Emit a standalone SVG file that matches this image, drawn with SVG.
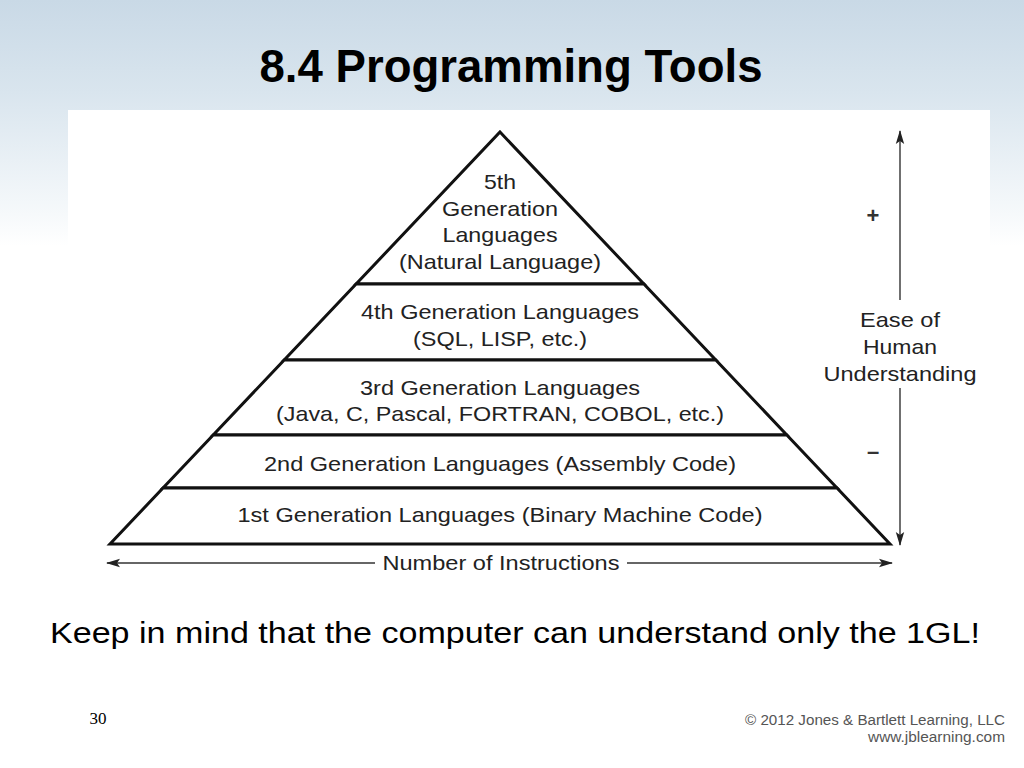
<svg xmlns="http://www.w3.org/2000/svg" width="1024" height="768" viewBox="0 0 1024 768">
<defs>
<linearGradient id="bg" x1="0" y1="0" x2="0" y2="1">
<stop offset="0" stop-color="#c9d9e6"/>
<stop offset="0.12" stop-color="#d9e5ee"/>
<stop offset="0.28" stop-color="#f6f9fb"/>
<stop offset="0.32" stop-color="#ffffff"/>
<stop offset="1" stop-color="#ffffff"/>
</linearGradient>
<marker id="arr" viewBox="0 0 14 10" refX="13" refY="5" markerWidth="14" markerHeight="10" markerUnits="userSpaceOnUse" orient="auto-start-reverse">
<path d="M0,0.8 L14,5 L0,9.2 L3,5 Z" fill="#222"/>
</marker>
<style>
.lyr{fill:#fff;stroke:#111;stroke-width:3;stroke-linejoin:miter}
.t{font-family:"Liberation Sans",Arial,Helvetica,sans-serif;font-size:21px;fill:#222;text-anchor:middle}
.pm{font-family:"Liberation Sans",Arial,Helvetica,sans-serif;font-size:22px;font-weight:bold;fill:#333;text-anchor:middle}
.ax{stroke:#333;stroke-width:1.4;fill:none}
</style>
</defs>
<rect x="0" y="0" width="1024" height="768" fill="url(#bg)"/>
<rect x="68" y="110" width="922" height="470" fill="#fff"/>
<text x="511" y="82" font-family="'Liberation Sans',Arial,sans-serif" font-weight="bold" font-size="46" text-anchor="middle" textLength="503" lengthAdjust="spacingAndGlyphs" fill="#000">8.4 Programming Tools</text>

<g id="gen5">
<polygon class="lyr" points="500,132 643.9,284 356.1,284"/>
<text class="t" x="500" y="189" textLength="32" lengthAdjust="spacingAndGlyphs">5th</text>
<text class="t" x="500" y="216" textLength="116" lengthAdjust="spacingAndGlyphs">Generation</text>
<text class="t" x="500" y="242" textLength="115" lengthAdjust="spacingAndGlyphs">Languages</text>
<text class="t" x="500" y="269" textLength="202" lengthAdjust="spacingAndGlyphs">(Natural Language)</text>
</g>
<g id="gen4">
<polygon class="lyr" points="356.1,284 643.9,284 715.8,360 284.2,360"/>
<text class="t" x="500" y="319" textLength="278" lengthAdjust="spacingAndGlyphs">4th Generation Languages</text>
<text class="t" x="500" y="346" textLength="174" lengthAdjust="spacingAndGlyphs">(SQL, LISP, etc.)</text>
</g>
<g id="gen3">
<polygon class="lyr" points="284.2,360 715.8,360 786.8,435 213.2,435"/>
<text class="t" x="500" y="395" textLength="280" lengthAdjust="spacingAndGlyphs">3rd Generation Languages</text>
<text class="t" x="500" y="421" textLength="448" lengthAdjust="spacingAndGlyphs">(Java, C, Pascal, FORTRAN, COBOL, etc.)</text>
</g>
<g id="gen2">
<polygon class="lyr" points="213.2,435 786.8,435 837,488 163,488"/>
<text class="t" x="500" y="471" textLength="472" lengthAdjust="spacingAndGlyphs">2nd Generation Languages (Assembly Code)</text>
</g>
<g id="gen1">
<polygon class="lyr" points="163,488 837,488 890,544 110,544"/>
<text class="t" x="500" y="522" textLength="525" lengthAdjust="spacingAndGlyphs">1st Generation Languages (Binary Machine Code)</text>
</g>

<g id="connectors">
<line class="ax" x1="900" y1="131" x2="900" y2="300" marker-start="url(#arr)"/>
<line class="ax" x1="900" y1="388" x2="900" y2="545" marker-end="url(#arr)"/>
<line class="ax" x1="107" y1="563" x2="375" y2="563" marker-start="url(#arr)"/>
<line class="ax" x1="627" y1="563" x2="892" y2="563" marker-end="url(#arr)"/>
</g>

<g id="ease-label">
<text class="pm" x="873" y="223">+</text>
<text class="pm" x="873" y="459">–</text>
<text class="t" x="900" y="327" textLength="80" lengthAdjust="spacingAndGlyphs">Ease of</text>
<text class="t" x="900" y="354" textLength="74" lengthAdjust="spacingAndGlyphs">Human</text>
<text class="t" x="900" y="381" textLength="153" lengthAdjust="spacingAndGlyphs">Understanding</text>
</g>
<g id="instr-label">
<text class="t" x="501" y="570" textLength="237" lengthAdjust="spacingAndGlyphs">Number of Instructions</text>
</g>

<text x="515" y="643" font-family="'Liberation Sans',Arial,sans-serif" font-size="29" text-anchor="middle" textLength="930" lengthAdjust="spacingAndGlyphs" fill="#000">Keep in mind that the computer can understand only the 1GL!</text>
<text x="98" y="724" font-family="'Liberation Serif','Times New Roman',serif" font-size="17" text-anchor="middle" fill="#000">30</text>
<text x="1005" y="725" font-family="'Liberation Sans',Arial,sans-serif" font-size="14" text-anchor="end" textLength="260" lengthAdjust="spacingAndGlyphs" fill="#555">© 2012 Jones &amp; Bartlett Learning, LLC</text>
<text x="1005" y="742" font-family="'Liberation Sans',Arial,sans-serif" font-size="14" text-anchor="end" textLength="137" lengthAdjust="spacingAndGlyphs" fill="#555">www.jblearning.com</text>
</svg>
